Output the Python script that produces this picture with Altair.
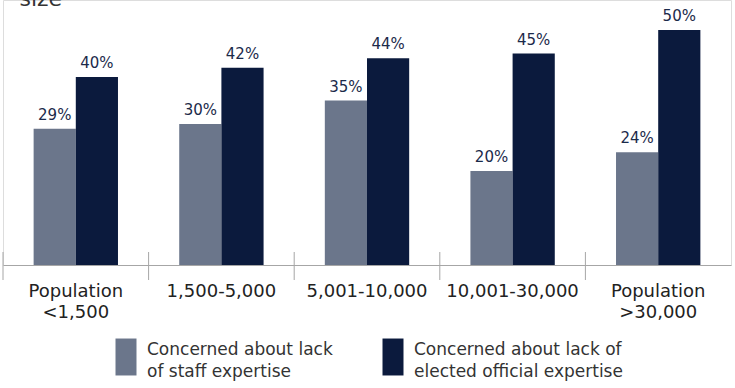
import altair as alt
import pandas as pd

groups = ["Population|<1,500", "1,500-5,000", "5,001-10,000", "10,001-30,000", "Population|>30,000"]
series = ["Concerned about lack|of staff expertise", "Concerned about lack of|elected official expertise"]
staff = [29, 30, 35, 20, 24]
elected = [40, 42, 44, 45, 50]
colors = ["#6B768B", "#0B1A3D"]

rows = []
for g, s, e in zip(groups, staff, elected):
    rows.append({"group": g, "series": series[0], "value": s, "label": f"{s}%"})
    rows.append({"group": g, "series": series[1], "value": e, "label": f"{e}%"})
df = pd.DataFrame(rows)
gdf = pd.DataFrame({"group": groups})

FONT = "DejaVu Sans"

xscale = alt.Scale(domain=groups, paddingInner=0, paddingOuter=0)
xaxis = alt.Axis(title=None, ticks=False, domainColor="#A6A6A6", domainWidth=1,
                 labelAngle=0, labelFont=FONT, labelFontSize=18,
                 labelColor="#222222", labelPadding=24, labelLineHeight=21,
                 labelExpr="split(datum.label, '|')")
x = alt.X("group:N", scale=xscale, sort=groups, axis=xaxis)
xoff = alt.XOffset("series:N", sort=series, scale=alt.Scale(domain=series, paddingInner=0, paddingOuter=0.726))
y = alt.Y("value:Q", scale=alt.Scale(domain=[0, 56.4], nice=False), axis=None)

bars = alt.Chart(df).mark_bar().encode(
    x=x, xOffset=xoff, y=y,
    color=alt.Color("series:N", sort=series, scale=alt.Scale(domain=series, range=colors),
                    legend=alt.Legend(title=None, orient="none", legendX=102, legendY=336,
                                      direction="horizontal", columns=2, columnPadding=39,
                                      symbolType="M-0.5,-0.88L0.5,-0.88L0.5,0.88L-0.5,0.88Z",
                                      symbolSize=1764, symbolStrokeWidth=0, symbolOpacity=1,
                                      labelFont=FONT, labelFontSize=17,
                                      labelColor="#333333",
                                      labelLimit=400, labelOffset=0,
                                      labelExpr="split(datum.label, '|')")),
)

labels = alt.Chart(df).mark_text(baseline="bottom", dy=-6, font=FONT, fontSize=15,
                                 color="#1B2A4A").encode(
    x=x, xOffset=xoff, y=y, text="label:N")

ticks = alt.Chart(gdf).mark_rule(color="#A6A6A6", strokeWidth=1).encode(
    x=alt.X("group:N", scale=xscale, sort=groups, bandPosition=0, axis=xaxis),
    y=alt.value(252), y2=alt.value(280))

chart = alt.layer(bars, labels, ticks).properties(
    width=728, height=265,
    autosize=alt.AutoSizeParams(type="none"),
    padding={"left": 3, "right": 4, "top": 0, "bottom": 123},
    title=alt.TitleParams("size", anchor="start", dx=17, dy=15, font=FONT, fontSize=22,
                          fontWeight="normal", color="#333333"),
).configure_view(stroke=None).configure(style={"guide-label": {"lineHeight": 22, "dy": -7}})

chart.save("out.html", embed_options={"renderer": "svg", "actions": False})
